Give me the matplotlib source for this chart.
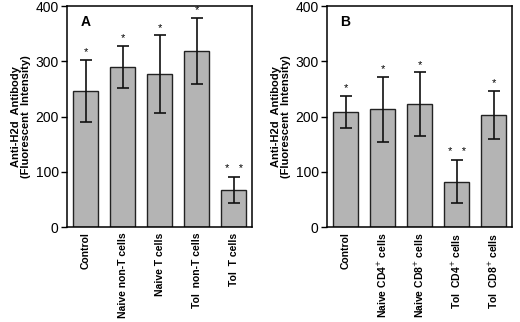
import matplotlib.pyplot as plt
import numpy as np

plt.rcParams["font.family"] = ["Liberation Sans", "DejaVu Sans"]

# ---- data ----
labels_a = ["Control", "Naive non-T cells", "Naive T cells", "Tol  non-T cells", "Tol  T cells"]
means_a = [247, 290, 277, 319, 67]
errs_a = [56, 38, 70, 60, 24]
stars_a = ["*", "*", "*", "*", "*   *"]

labels_b = ["Control", "Naive CD4$^{+}$ cells", "Naive CD8$^{+}$ cells",
            "Tol  CD4$^{+}$ cells", "Tol  CD8$^{+}$ cells"]
means_b = [209, 213, 222, 82, 203]
errs_b = [29, 59, 58, 39, 43]
stars_b = ["*", "*", "*", "*   *", "*"]

panels = [("A", labels_a, means_a, errs_a, stars_a),
          ("B", labels_b, means_b, errs_b, stars_b)]

fig = plt.figure(figsize=(5.2, 3.22), dpi=100)
lefts = [0.129, 0.629]

for left, (letter, labels, means, errs, stars) in zip(lefts, panels):
    ax = fig.add_axes([left, 0.295, 0.356, 0.686])
    x = np.arange(len(means))
    ax.bar(x, means, width=0.68, color="#b4b4b4", edgecolor="#222222", linewidth=1.0, zorder=2)
    ax.errorbar(x, means, yerr=errs, fmt="none", ecolor="#111111", elinewidth=1.2,
                capsize=4, capthick=1.2, zorder=3)
    for xi, m, e, s in zip(x, means, errs, stars):
        ax.text(xi, m + e + 5, s, ha="center", va="bottom", fontsize=8, zorder=4)

    ax.set_xlim(-0.5, 4.5)
    ax.set_ylim(0, 400)
    ax.set_yticks([0, 100, 200, 300, 400])
    ax.tick_params(axis="y", labelsize=10, direction="out", length=4, width=1.0, pad=2)
    ax.set_xticks(x)
    ax.set_xticklabels(labels, rotation=90, fontsize=7.5, fontweight="bold")
    ax.tick_params(axis="x", length=0, pad=4)
    for sp in ax.spines.values():
        sp.set_linewidth(1.1)

    ax.set_ylabel("Anti-H2d  Antibody\n(Fluorescent  Intensity)", fontsize=8,
                  fontweight="bold", labelpad=3, linespacing=1.0)
    ax.text(0.1, 0.93, letter, transform=ax.transAxes, fontsize=10,
            fontweight="bold", ha="center", va="center")

fig.savefig("out.png", dpi=100)
